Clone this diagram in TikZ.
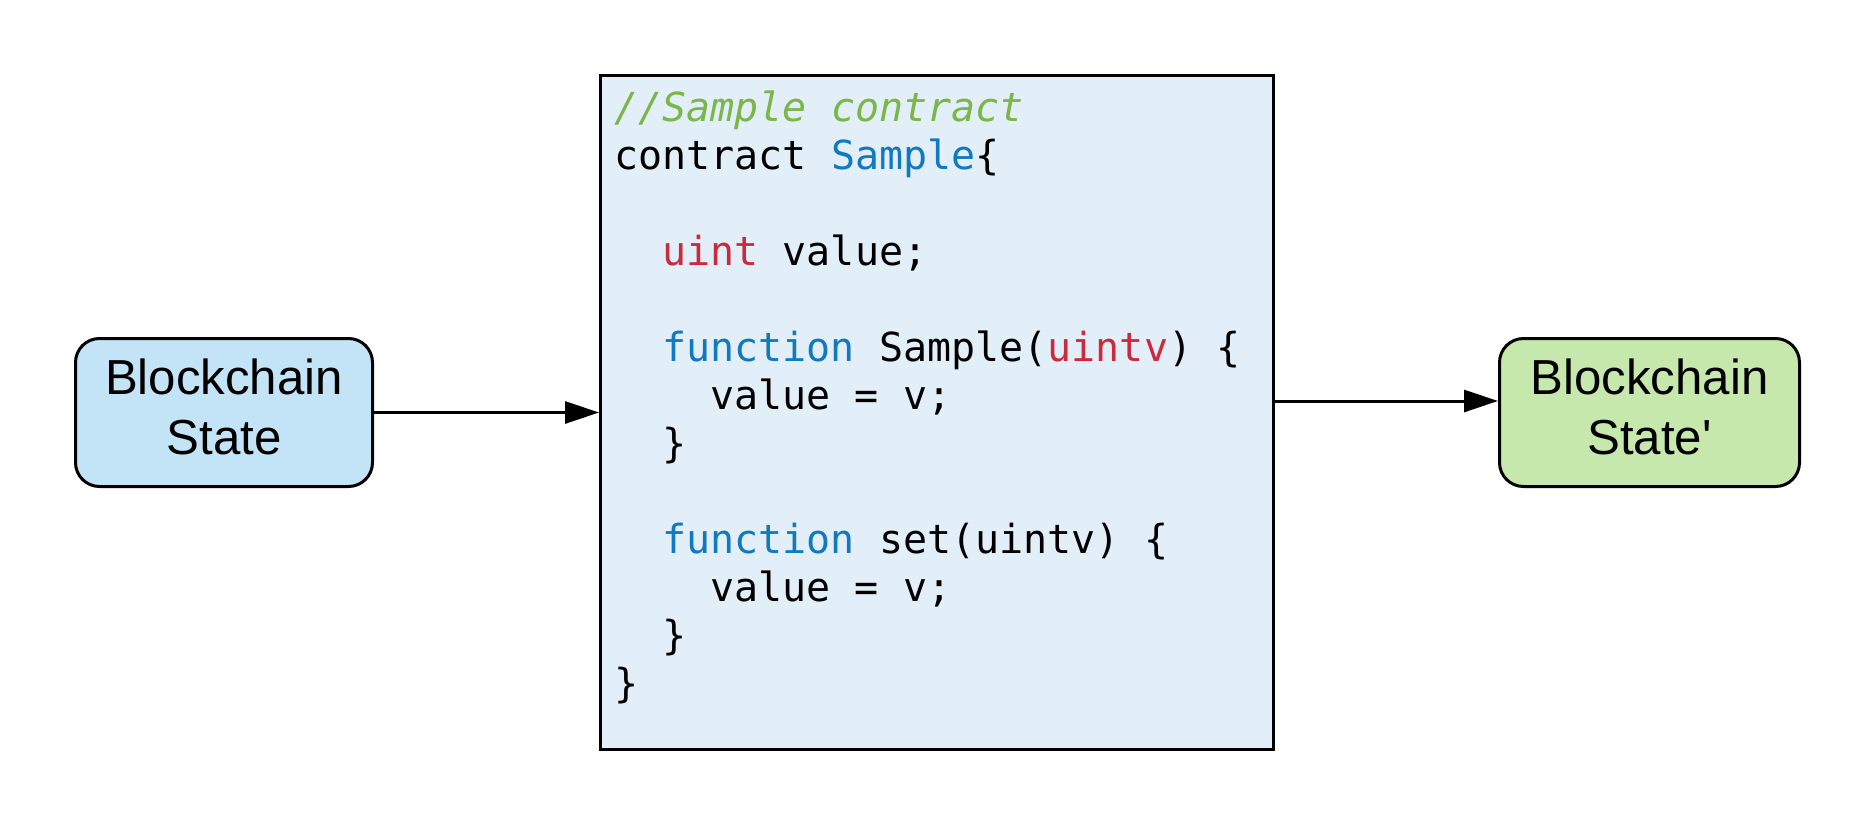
\documentclass[tikz,border=0pt]{standalone}
\usepackage{fontspec}
\setmainfont{Liberation Sans}
\newfontfamily\codefont{DejaVu Sans Mono}
\usetikzlibrary{arrows.meta}

\definecolor{stateblue}{HTML}{C2E4F6}
\definecolor{stategreen}{HTML}{C7E8AD}
\definecolor{codebg}{HTML}{E2EEF8}
\definecolor{cmtgreen}{HTML}{7AB648}
\definecolor{kwblue}{HTML}{1079BF}
\definecolor{typered}{HTML}{CC2A3C}

\tikzset{
  statebox/.style={draw=black, line width=1.5pt, rounded corners=12pt,
    minimum height=74pt, inner sep=0pt, align=center,
    font=\fontsize{24.6}{30}\selectfont},
  codebox/.style={draw=black, line width=1.5pt, fill=codebg,
    minimum width=336.5pt, minimum height=337pt, inner sep=0pt},
  codeline/.style={anchor=base west, inner sep=0pt,
    font=\codefont\fontsize{20}{24}\selectfont},
  flow/.style={line width=1.5pt, -{Triangle[length=17pt,width=11pt]}}
}
\newcommand\kw[1]{\textcolor{kwblue}{#1}}
\newcommand\ty[1]{\textcolor{typered}{#1}}

\begin{document}
\begin{tikzpicture}[x=0.5pt,y=-0.5pt]
  \useasboundingbox (0,0) rectangle (1875,825);

  % state before and after
  \node[statebox, fill=stateblue, minimum width=148.5pt] (pre) at (224,412.5)
    {Blockchain\\State\rule[-6pt]{0pt}{6pt}};
  \node[statebox, fill=stategreen, minimum width=150pt] (post) at (1649.5,412.5)
    {Blockchain\\State\textquotesingle\rule[-6pt]{0pt}{6pt}};

  % contract source
  \node[codebox] (code) at (937,412.5) {};

  \node[codeline] (l0)  at (614,121) {\textcolor{cmtgreen}{\itshape //Sample contract}};
  \node[codeline] (l1)  at (614,169) {contract \kw{Sample}\{};
  \node[codeline] (l3)  at (662,265) {\ty{uint} value;};
  \node[codeline] (l5)  at (662,361) {\kw{function} Sample(\ty{uintv}) \{};
  \node[codeline] (l6)  at (710,409) {value = v;};
  \node[codeline] (l7)  at (662,457) {\}};
  \node[codeline] (l9)  at (662,553) {\kw{function} set(uintv) \{};
  \node[codeline] (l10) at (710,601) {value = v;};
  \node[codeline] (l11) at (662,649) {\}};
  \node[codeline] (l12) at (614,697) {\}};

  % connectors
  \draw[flow] (pre.east) -- (code.west |- pre.east);
  \draw[flow] ([yshift=5.75pt]code.east) -- ([yshift=5.75pt]post.west);
\end{tikzpicture}
\end{document}
